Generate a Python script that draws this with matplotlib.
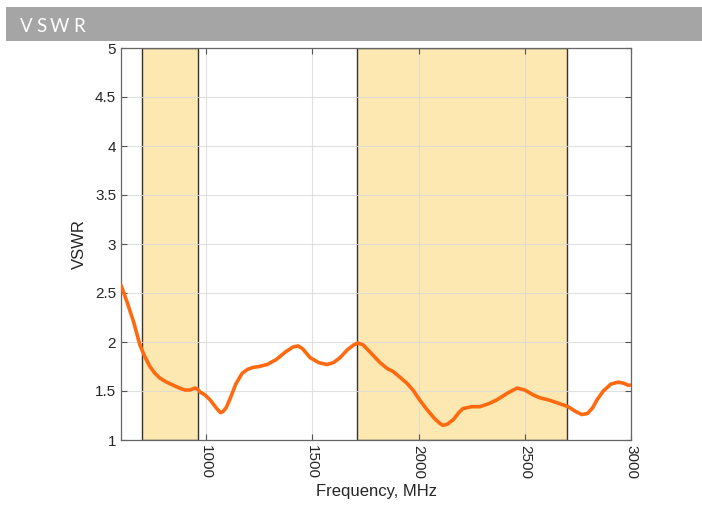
import numpy as np
import matplotlib
matplotlib.use('Agg')
import matplotlib.pyplot as plt
from matplotlib.patches import Rectangle

# VSWR curve (MHz, VSWR)
freq_mhz = [600, 615, 630, 645, 660, 675, 689, 710, 736, 760, 784, 815, 845, 875, 901,
            925, 948, 960, 972, 995, 1019, 1040, 1055, 1068, 1080, 1095, 1115, 1140,
            1170, 1195, 1220, 1250, 1287, 1330, 1375, 1410, 1433, 1455, 1490, 1530,
            1569, 1600, 1631, 1665, 1695, 1715, 1740, 1775, 1819, 1852, 1880, 1913,
            1945, 1974, 2005, 2040, 2075, 2100, 2115, 2135, 2165, 2190, 2209, 2250,
            2289, 2330, 2369, 2420, 2464, 2500, 2540, 2572, 2610, 2652, 2704, 2740,
            2769, 2795, 2820, 2840, 2870, 2905, 2939, 2965, 2985, 3000]
vswr = [2.58, 2.49, 2.40, 2.30, 2.20, 2.08, 1.97, 1.86, 1.75, 1.68, 1.63, 1.59, 1.56,
        1.53, 1.51, 1.51, 1.53, 1.52, 1.49, 1.46, 1.41, 1.35, 1.31, 1.28, 1.29, 1.33,
        1.43, 1.57, 1.68, 1.72, 1.74, 1.75, 1.77, 1.82, 1.90, 1.95, 1.96, 1.93, 1.84,
        1.79, 1.77, 1.79, 1.84, 1.92, 1.97, 1.99, 1.97, 1.89, 1.79, 1.73, 1.70, 1.64,
        1.58, 1.51, 1.41, 1.31, 1.22, 1.17, 1.15, 1.16, 1.21, 1.28, 1.32, 1.34, 1.34,
        1.37, 1.41, 1.48, 1.53, 1.51, 1.46, 1.43, 1.41, 1.38, 1.34, 1.29, 1.26, 1.27,
        1.33, 1.41, 1.50, 1.57, 1.59, 1.58, 1.56, 1.56]

# shaded operating bands (MHz)
bands = [(698, 960), (1710, 2700)]

x_ticks = [1000, 1500, 2000, 2500, 3000]
y_ticks = [1, 1.5, 2, 2.5, 3, 3.5, 4, 4.5, 5]
y_tick_labels = ['1', '1.5', '2', '2.5', '3', '3.5', '4', '4.5', '5']
title = 'VSWR'

plt.rcParams['font.family'] = ['Liberation Sans', 'DejaVu Sans']

fig = plt.figure(figsize=(7.02, 5.08), dpi=100)
W, H = 702, 508

# grey header bar with letter-spaced title
fig.patches.append(Rectangle((6 / W, 1 - 41 / H), 1 - 6 / W, 34 / H,
                             transform=fig.transFigure, facecolor='#a5a5a5',
                             edgecolor='none', zorder=0))
renderer = fig.canvas.get_renderer()
x_px = 20
for ch in title:
    t = fig.text(x_px / W, 1 - 26.5 / H, ch, color='white', fontsize=13.5,
                 family=['Lato', 'DejaVu Sans'], va='center', ha='left')
    x_px = t.get_window_extent(renderer).x1 + 3.5

ax = fig.add_axes([121 / W, 1 - 440 / H, 510 / W, 392 / H])

for lo, hi in bands:
    ax.axvspan(lo, hi, facecolor='#fde8b2', edgecolor='#333333', linewidth=1.0, zorder=1)

ax.plot(freq_mhz, vswr, color='#ff6a10', linewidth=2.6, solid_capstyle='round',
        solid_joinstyle='round', zorder=3)

ax.set_xlim(600, 3000)
ax.set_ylim(1, 5)
ax.set_xticks(x_ticks)
ax.set_xticklabels([str(t) for t in x_ticks], rotation=270)
ax.set_yticks(y_ticks)
ax.set_yticklabels(y_tick_labels)
ax.grid(True, color='#d9d9d9', linewidth=0.8)
for gl in ax.get_xgridlines() + ax.get_ygridlines():
    gl.set_zorder(2)
    gl.set_alpha(0.8)

ax.tick_params(direction='in', top=True, right=True, length=4, width=0.8,
               colors='#555555', labelcolor='#262626', labelsize=11)
for s in ax.spines.values():
    s.set_color('#666666')
    s.set_linewidth(0.9)

ax.set_xlabel('Frequency, MHz', fontsize=12, color='#262626', labelpad=4)
ax.set_ylabel('VSWR', fontsize=12, color='#262626', labelpad=6)

fig.savefig('out.png', dpi=100, facecolor='white')
